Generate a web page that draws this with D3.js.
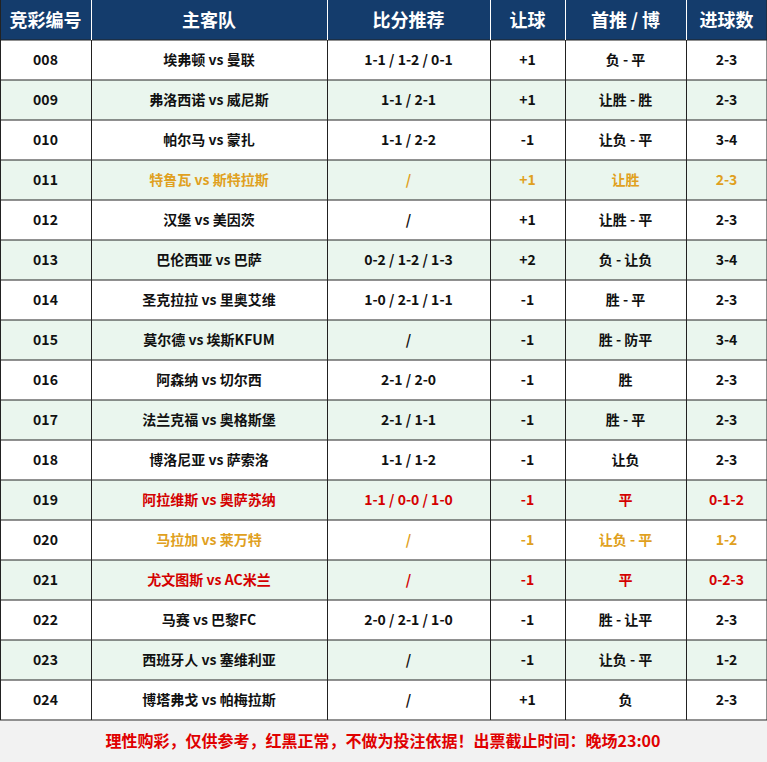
<!DOCTYPE html>
<html><head><meta charset="utf-8">
<script src="https://cdn.jsdelivr.net/npm/d3@7"></script>
<style>body{margin:0;background:#fff}svg{display:block}</style>
</head><body><div id="chart"></div>
<script>
// ─── Data ───
const headers = ['竞彩编号', '主客队', '比分推荐', '让球', '首推 / 博', '进球数'];
const ids = ['008','009','010','011','012','013','014','015','016','017','018','019','020','021','022','023','024'];
const matches = ['埃弗顿 vs 曼联','弗洛西诺 vs 威尼斯','帕尔马 vs 蒙扎','特鲁瓦 vs 斯特拉斯','汉堡 vs 美因茨','巴伦西亚 vs 巴萨','圣克拉拉 vs 里奥艾维','莫尔德 vs 埃斯KFUM','阿森纳 vs 切尔西','法兰克福 vs 奥格斯堡','博洛尼亚 vs 萨索洛','阿拉维斯 vs 奥萨苏纳','马拉加 vs 莱万特','尤文图斯 vs AC米兰','马赛 vs 巴黎FC','西班牙人 vs 塞维利亚','博塔弗戈 vs 帕梅拉斯'];
const scores = ['1-1 / 1-2 / 0-1','1-1 / 2-1','1-1 / 2-2','/','/','0-2 / 1-2 / 1-3','1-0 / 2-1 / 1-1','/','2-1 / 2-0','2-1 / 1-1','1-1 / 1-2','1-1 / 0-0 / 1-0','/','/','2-0 / 2-1 / 1-0','/','/'];
const handicaps = ['+1','+1','-1','+1','+1','+2','-1','-1','-1','-1','-1','-1','-1','-1','-1','-1','+1'];
const picks = ['负 - 平','让胜 - 胜','让负 - 平','让胜','让胜 - 平','负 - 让负','胜 - 平','胜 - 防平','胜','胜 - 平','让负','平','让负 - 平','平','胜 - 让平','让负 - 平','负'];
const goals = ['2-3','2-3','3-4','2-3','2-3','3-4','2-3','3-4','2-3','2-3','2-3','0-1-2','1-2','0-2-3','2-3','1-2','2-3'];
const highlight = ['','','','orange','','','','','','','','red','orange','red','','',''];
const footer = '理性购彩，仅供参考，红黑正常，不做为投注依据！出票截止时间：晚场23:00';

const colEdges = [0, 91, 327, 490, 565, 686, 767];
const W = 767, H = 762, headH = 40, rowH = 40;
const colorMap = { orange: '#e0a020', red: '#d40000', '': '#111' };

const svg = d3.select('#chart').append('svg').attr('width', W).attr('height', H)
  .style('font-family', '"Noto Sans CJK SC", "Noto Sans", sans-serif');

const y = d3.scaleBand().domain(ids).range([headH, headH + rowH * ids.length]);
const colCenter = i => (colEdges[i] + colEdges[i + 1]) / 2;

// header
svg.append('rect').attr('x', 0).attr('y', 0).attr('width', W).attr('height', headH).attr('fill', '#143c6c');
svg.selectAll('text.head').data(headers).enter().append('text')
  .attr('x', (d, i) => colCenter(i)).attr('y', headH / 2 + 7)
  .attr('text-anchor', 'middle').attr('font-size', 18).attr('font-weight', 700).attr('fill', '#fff')
  .text(d => d);

// rows
const rows = svg.selectAll('g.row').data(ids).enter().append('g')
  .attr('transform', d => `translate(0,${y(d)})`);
rows.append('rect').attr('width', W).attr('height', rowH)
  .attr('fill', (d, i) => i % 2 ? '#eaf6ee' : '#fff');

const cols = [ids, matches, scores, handicaps, picks, goals];
rows.each(function (d, r) {
  const g = d3.select(this);
  cols.forEach((arr, c) => {
    g.append('text').attr('x', colCenter(c)).attr('y', rowH / 2 + 5)
      .attr('text-anchor', 'middle').attr('font-size', 14).attr('font-weight', 700)
      .attr('fill', c === 0 ? '#111' : colorMap[highlight[r]])
      .text(arr[r]);
  });
});

// grid lines
const tableBottom = headH + rowH * ids.length;
svg.selectAll('line.h').data(d3.range(ids.length + 1)).enter().append('line')
  .attr('x1', 0).attr('x2', W).attr('y1', i => headH + i * rowH).attr('y2', i => headH + i * rowH)
  .attr('stroke', '#222').attr('stroke-width', 1);
svg.selectAll('line.v').data(colEdges).enter().append('line')
  .attr('x1', d => Math.min(d, W - 0.5) + 0.5).attr('x2', d => Math.min(d, W - 0.5) + 0.5)
  .attr('y1', 0).attr('y2', tableBottom)
  .attr('stroke', (d, i) => '#222').attr('stroke-width', 1);
svg.selectAll('line.hv').data(colEdges.slice(1, -1)).enter().append('line')
  .attr('x1', d => d + 0.5).attr('x2', d => d + 0.5).attr('y1', 0).attr('y2', headH)
  .attr('stroke', '#fff').attr('stroke-width', 1);

// footer
svg.append('rect').attr('x', 0).attr('y', tableBottom + 1).attr('width', W).attr('height', H - tableBottom - 1).attr('fill', '#f2f2f2');
svg.append('text').attr('x', 383).attr('y', tableBottom + 27).attr('text-anchor', 'middle')
  .attr('font-size', 16).attr('font-weight', 700).attr('fill', '#e00000').text(footer);
</script></body></html>
